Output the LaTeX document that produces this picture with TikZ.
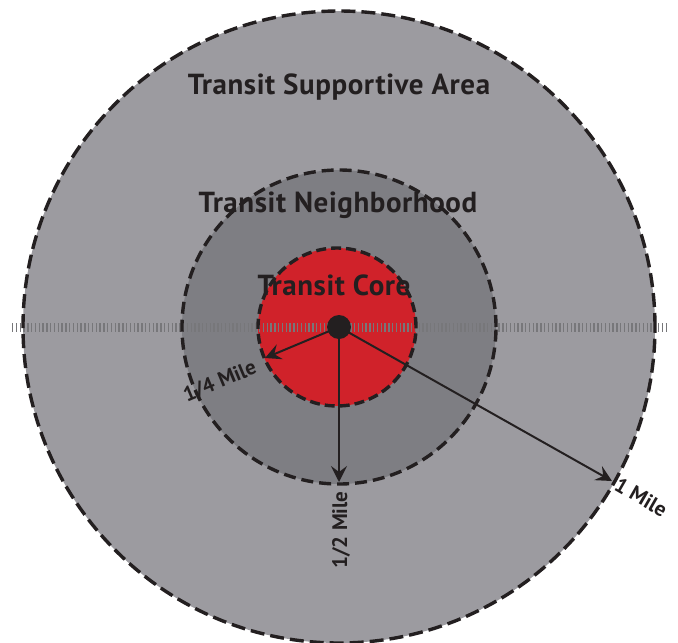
\documentclass[tikz,border=0pt]{standalone}
\usepackage{fontspec}
\setmainfont{PT Sans}
\usepackage{tikz}
\usetikzlibrary{arrows.meta,calc,positioning}
\definecolor{areagray}{HTML}{9C9BA0}
\definecolor{hoodgray}{HTML}{7E7E83}
\definecolor{corered}{HTML}{D0222A}
\definecolor{inkdark}{HTML}{231F20}
\definecolor{tickgray}{HTML}{77777A}
\tikzset{
  every node/.append style={font=\bfseries,text=inkdark,inner sep=1pt},
  ring/.style={draw=inkdark,line width=3.4pt,dash pattern=on 14pt off 6pt},
  radius arrow/.style={-{Stealth[length=16pt,width=16pt,inset=6pt]},draw=inkdark,line width=2pt},
  zonelabel/.style={font=\bfseries\fontsize{29}{32}\selectfont\addfontfeatures{LetterSpace=2}},
  milelabel/.style={font=\bfseries\fontsize{21}{23}\selectfont}
}

\begin{document}
\begin{tikzpicture}[x=1pt,y=-1pt]
  \useasboundingbox (0,0) rectangle (678,643);
  \coordinate (c) at (339,327);
  \coordinate (k) at (337,327);
  % zones
  \fill[areagray] (c) circle[radius=316pt];
  \fill[hoodgray] (c) circle[radius=157pt];
  \fill[corered] (k) circle[radius=79pt];
  % axis ticks
  \coordinate (w) at (12,327);
  \coordinate (e) at (668,327);
  \draw[tickgray,line width=9pt,dash pattern=on 1.4pt off 2.4pt] (w) -- (e);
  \draw[ring] (c) circle[radius=316pt];
  \draw[ring,dash pattern=on 12pt off 6pt] (c) circle[radius=157pt];
  \draw[ring,dash pattern=on 10pt off 5pt] (k) circle[radius=79pt];
  % radii
  \coordinate (q) at ($(c)+(-74,31)$);
  \coordinate (h) at ($(c)+(0,155)$);
  \coordinate (m) at ($(c)+(273,154)$);
  \draw[radius arrow] (c) -- (q);
  \draw[radius arrow] (c) -- (h);
  \draw[radius arrow] (c) -- (m);
  \fill[inkdark] (c) circle[radius=12pt];
  \node[zonelabel] (area) at (339,87) {Transit Supportive Area};
  \node[zonelabel] (hood) at (338,205) {Transit Neighborhood};
  \node[zonelabel] (core) at (334,285) {Transit Core};
  \node[milelabel,rotate=22.6] (qlabel) at (220,382) {1/4 Mile};
  \node[milelabel,rotate=90] (hlabel) at (341,530) {1/2 Mile};
  \node[milelabel,rotate=-30] (mlabel) at (641,497) {1 Mile};
\end{tikzpicture}
\end{document}
